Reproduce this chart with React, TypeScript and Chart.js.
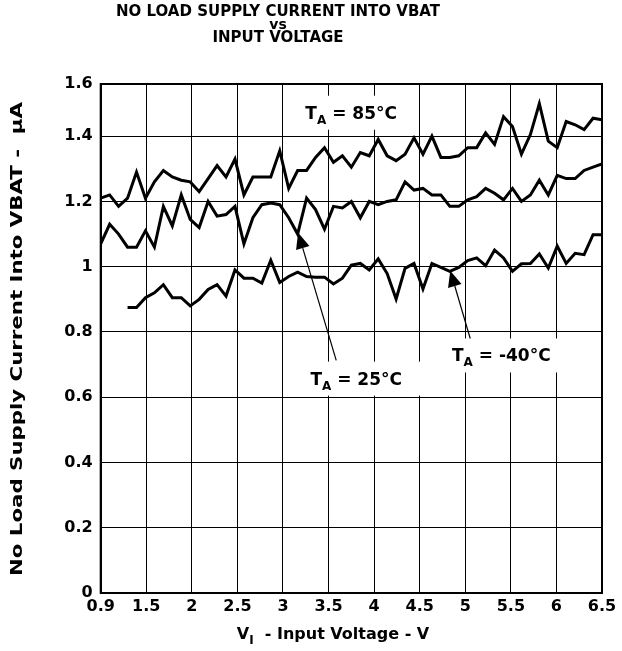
import React, { useEffect, useRef } from 'react';
import { Chart, registerables } from 'chart.js';

Chart.register(...registerables);

// ---------- text ----------
const TITLE_LINES = ['NO LOAD SUPPLY CURRENT INTO VBAT', 'vs', 'INPUT VOLTAGE'];
const X_TITLE_PARTS = ['V', 'I', '  - Input Voltage - V'];
const Y_TITLE = 'No Load Supply Current Into VBAT -  \u03bcA';

// ---------- axes ----------
const X_MIN = 0.9;
const X_MAX = 6.5;
const X_TICK_LABELS = ['0.9', '1.5', '2', '2.5', '3', '3.5', '4', '4.5', '5', '5.5', '6', '6.5'];
const Y_TICKS = [0, 0.2, 0.4, 0.6, 0.8, 1.0, 1.2, 1.4, 1.56];
const Y_TICK_LABELS = ['0', '0.2', '0.4', '0.6', '0.8', '1', '1.2', '1.4', '1.6'];

// ---------- data ----------
const INPUT_VOLTAGE = [
  0.9, 1.0, 1.1, 1.2, 1.3, 1.4, 1.5, 1.6, 1.7, 1.8,
  1.9, 2.0, 2.1, 2.2, 2.3, 2.4, 2.5, 2.6, 2.7, 2.8,
  2.9, 3.0, 3.1, 3.2, 3.3, 3.4, 3.5, 3.6, 3.7, 3.8,
  3.9, 4.0, 4.1, 4.2, 4.3, 4.4, 4.5, 4.6, 4.7, 4.8,
  4.9, 5.0, 5.1, 5.2, 5.3, 5.4, 5.5, 5.6, 5.7, 5.8,
  5.9, 6.0, 6.1, 6.2, 6.3, 6.4, 6.5,
];

const CURRENT_85C = [
  1.21, 1.22, 1.185, 1.21, 1.29, 1.21, 1.26, 1.295, 1.275, 1.265,
  1.26, 1.23, 1.27, 1.31, 1.275, 1.33, 1.22, 1.275, 1.275, 1.275,
  1.355, 1.24, 1.295, 1.295, 1.335, 1.365, 1.32, 1.34, 1.305, 1.35,
  1.34, 1.39, 1.34, 1.325, 1.345, 1.395, 1.345, 1.40, 1.335, 1.335,
  1.34, 1.365, 1.365, 1.41, 1.375, 1.46, 1.43, 1.345, 1.405, 1.50,
  1.385, 1.365, 1.445, 1.435, 1.42, 1.455, 1.45,
];

const CURRENT_25C = [
  1.07, 1.13, 1.10, 1.06, 1.06, 1.11, 1.06, 1.185, 1.125, 1.22,
  1.145, 1.12, 1.20, 1.155, 1.16, 1.185, 1.07, 1.15, 1.19, 1.195,
  1.19, 1.15, 1.10, 1.21, 1.175, 1.115, 1.185, 1.18, 1.20, 1.15,
  1.20, 1.19, 1.20, 1.205, 1.26, 1.235, 1.24, 1.22, 1.22, 1.185,
  1.185, 1.205, 1.215, 1.24, 1.225, 1.205, 1.24, 1.20, 1.22, 1.265,
  1.22, 1.28, 1.27, 1.27, 1.295, 1.305, 1.315,
];

const CURRENT_M40C = [
  null, null, null, 0.875, 0.875, 0.905, 0.92, 0.945, 0.905, 0.905,
  0.88, 0.90, 0.93, 0.945, 0.91, 0.99, 0.965, 0.965, 0.95, 1.02,
  0.952, 0.97, 0.983, 0.97, 0.968, 0.968, 0.947, 0.965, 1.005, 1.01,
  0.99, 1.024, 0.979, 0.901, 0.995, 1.01, 0.932, 1.01, 0.998, 0.986,
  0.998, 1.019, 1.027, 1.003, 1.051, 1.027, 0.986, 1.009, 1.01, 1.039,
  0.996, 1.063, 1.01, 1.041, 1.037, 1.098, 1.098,
];

// ---------- annotations (data units) ----------
const TEMP_LABELS = [
  { temp: ' = 85\u00b0C', x: 3.698, y: 1.472 },
  { temp: ' = 25\u00b0C', x: 3.754, y: 0.657 },
  { temp: ' = -40\u00b0C', x: 5.375, y: 0.728 },
];
const ARROWS = [
  { fromX: 3.531, fromY: 0.713, toX: 3.106, toY: 1.104 },
  { fromX: 5.028, fromY: 0.78, toX: 4.805, toY: 0.988 },
];

const FAMILY = '"DejaVu Sans", sans-serif';

type Part = { t: string; size: number; dy: number };

function partsWidth(ctx: CanvasRenderingContext2D, parts: Part[]) {
  let w = 0;
  for (const p of parts) {
    ctx.font = `bold ${p.size}px ${FAMILY}`;
    w += ctx.measureText(p.t).width;
  }
  return w;
}

function drawParts(ctx: CanvasRenderingContext2D, parts: Part[], cx: number, baseline: number) {
  const w = partsWidth(ctx, parts);
  let xx = cx - w / 2;
  ctx.textAlign = 'left';
  ctx.textBaseline = 'alphabetic';
  for (const p of parts) {
    ctx.font = `bold ${p.size}px ${FAMILY}`;
    ctx.fillText(p.t, xx, baseline + p.dy);
    xx += ctx.measureText(p.t).width;
  }
  return w;
}

const decorPlugin = {
  id: 'decor',
  beforeDatasetsDraw(chart: any) {
    const { ctx, scales } = chart;
    const xs = scales.x, ys = scales.y;
    ctx.save();
    for (const lab of TEMP_LABELS) {
      const parts: Part[] = [
        { t: 'T', size: 17, dy: 0 },
        { t: 'A', size: 12, dy: 5 },
        { t: lab.temp, size: 17, dy: 0 },
      ];
      const cx = xs.getPixelForValue(lab.x);
      const cy = ys.getPixelForValue(lab.y);
      const w = partsWidth(ctx, parts);
      ctx.fillStyle = '#fff';
      ctx.fillRect(cx - w / 2 - 20, cy - 17, w + 40, 34);
      ctx.fillStyle = '#000';
      drawParts(ctx, parts, cx, cy + 6);
    }
    ctx.restore();
  },
  afterDatasetsDraw(chart: any) {
    const { ctx, scales } = chart;
    const xs = scales.x, ys = scales.y;
    ctx.save();
    ctx.strokeStyle = '#000';
    ctx.fillStyle = '#000';
    for (const a of ARROWS) {
      const x1 = xs.getPixelForValue(a.fromX), y1 = ys.getPixelForValue(a.fromY);
      const x2 = xs.getPixelForValue(a.toX), y2 = ys.getPixelForValue(a.toY);
      const ang = Math.atan2(y2 - y1, x2 - x1);
      const len = 16, hw = 7;
      const bx = x2 - len * Math.cos(ang), by = y2 - len * Math.sin(ang);
      ctx.lineWidth = 1.2;
      ctx.beginPath();
      ctx.moveTo(x1, y1);
      ctx.lineTo(bx, by);
      ctx.stroke();
      ctx.beginPath();
      ctx.moveTo(x2, y2);
      ctx.lineTo(bx + hw * Math.sin(ang), by - hw * Math.cos(ang));
      ctx.lineTo(bx - hw * Math.sin(ang), by + hw * Math.cos(ang));
      ctx.closePath();
      ctx.fill();
    }
    ctx.restore();
  },
  afterDraw(chart: any) {
    const { ctx, chartArea } = chart;
    ctx.save();
    // plot frame
    ctx.strokeStyle = '#000';
    ctx.lineWidth = 2;
    ctx.strokeRect(chartArea.left, chartArea.top, chartArea.right - chartArea.left, chartArea.bottom - chartArea.top);

    ctx.fillStyle = '#000';
    // title
    ctx.textAlign = 'center';
    ctx.textBaseline = 'middle';
    ctx.font = `bold 15px ${FAMILY}`;
    ctx.fillText(TITLE_LINES[0], 278, 12);
    ctx.font = `bold 14px ${FAMILY}`;
    ctx.fillText(TITLE_LINES[1], 278, 25);
    ctx.font = `bold 15px ${FAMILY}`;
    ctx.fillText(TITLE_LINES[2], 278, 38);

    // x axis title
    drawParts(
      ctx,
      [
        { t: X_TITLE_PARTS[0], size: 16, dy: 0 },
        { t: X_TITLE_PARTS[1], size: 12, dy: 5 },
        { t: X_TITLE_PARTS[2], size: 16, dy: 0 },
      ],
      333,
      639,
    );

    // y axis title
    ctx.save();
    ctx.translate(18, 339);
    ctx.rotate(-Math.PI / 2);
    ctx.scale(1.33, 1);
    ctx.textAlign = 'center';
    ctx.textBaseline = 'middle';
    ctx.font = `bold 16px ${FAMILY}`;
    ctx.fillText(Y_TITLE, 0, 0);
    ctx.restore();

    ctx.restore();
  },
};

function toPoints(values: (number | null)[]) {
  return INPUT_VOLTAGE.map((v, i) => ({ x: v, y: values[i] }));
}

export default function App() {
  const canvasRef = useRef<HTMLCanvasElement | null>(null);

  useEffect(() => {
    if (!canvasRef.current) return;
    const lineStyle = {
      borderColor: '#000',
      borderWidth: 3,
      pointRadius: 0,
      fill: false,
      tension: 0,
      spanGaps: false,
    };
    const chart = new Chart(canvasRef.current, {
      type: 'line',
      data: {
        datasets: [
          { label: 'TA = 85°C', data: toPoints(CURRENT_85C), ...lineStyle },
          { label: 'TA = 25°C', data: toPoints(CURRENT_25C), ...lineStyle },
          { label: 'TA = -40°C', data: toPoints(CURRENT_M40C), ...lineStyle },
        ],
      },
      options: {
        animation: false,
        responsive: false,
        devicePixelRatio: 1,
        layout: { padding: { top: 84, right: 20, left: 0, bottom: 0 } },
        plugins: {
          legend: { display: false },
          title: { display: false },
          tooltip: { enabled: false },
        },
        scales: {
          x: {
            type: 'linear',
            min: X_MIN,
            max: X_MAX,
            afterBuildTicks: (scale: any) => {
              const n = X_TICK_LABELS.length - 1;
              scale.ticks = X_TICK_LABELS.map((_, i) => ({ value: X_MIN + ((X_MAX - X_MIN) * i) / n }));
            },
            afterFit: (scale: any) => {
              scale.height = 58;
            },
            ticks: {
              autoSkip: false,
              maxRotation: 0,
              padding: 4,
              color: '#000',
              font: { family: FAMILY, weight: 'bold', size: 16 },
              callback: (_v: any, i: number) => X_TICK_LABELS[i],
            },
            grid: { color: '#000', lineWidth: 1, drawTicks: false },
            border: { display: true, color: '#000', width: 2 },
          },
          y: {
            type: 'linear',
            min: 0,
            max: 1.56,
            afterBuildTicks: (scale: any) => {
              scale.ticks = Y_TICKS.map((v) => ({ value: v }));
            },
            afterFit: (scale: any) => {
              scale.width = 100.7;
            },
            ticks: {
              autoSkip: false,
              padding: 8,
              color: '#000',
              font: { family: FAMILY, weight: 'bold', size: 16 },
              callback: (_v: any, i: number) => Y_TICK_LABELS[i],
            },
            grid: { color: '#000', lineWidth: 1, drawTicks: false },
            border: { display: true, color: '#000', width: 2 },
          },
        },
      },
      plugins: [decorPlugin],
    } as any);
    return () => chart.destroy();
  }, []);

  return (
    <div style={{ position: 'absolute', left: 0, top: 0, width: 622, height: 651, background: '#fff' }}>
      <canvas ref={canvasRef} width={622} height={651} style={{ display: 'block', width: 622, height: 651 }} />
    </div>
  );
}
